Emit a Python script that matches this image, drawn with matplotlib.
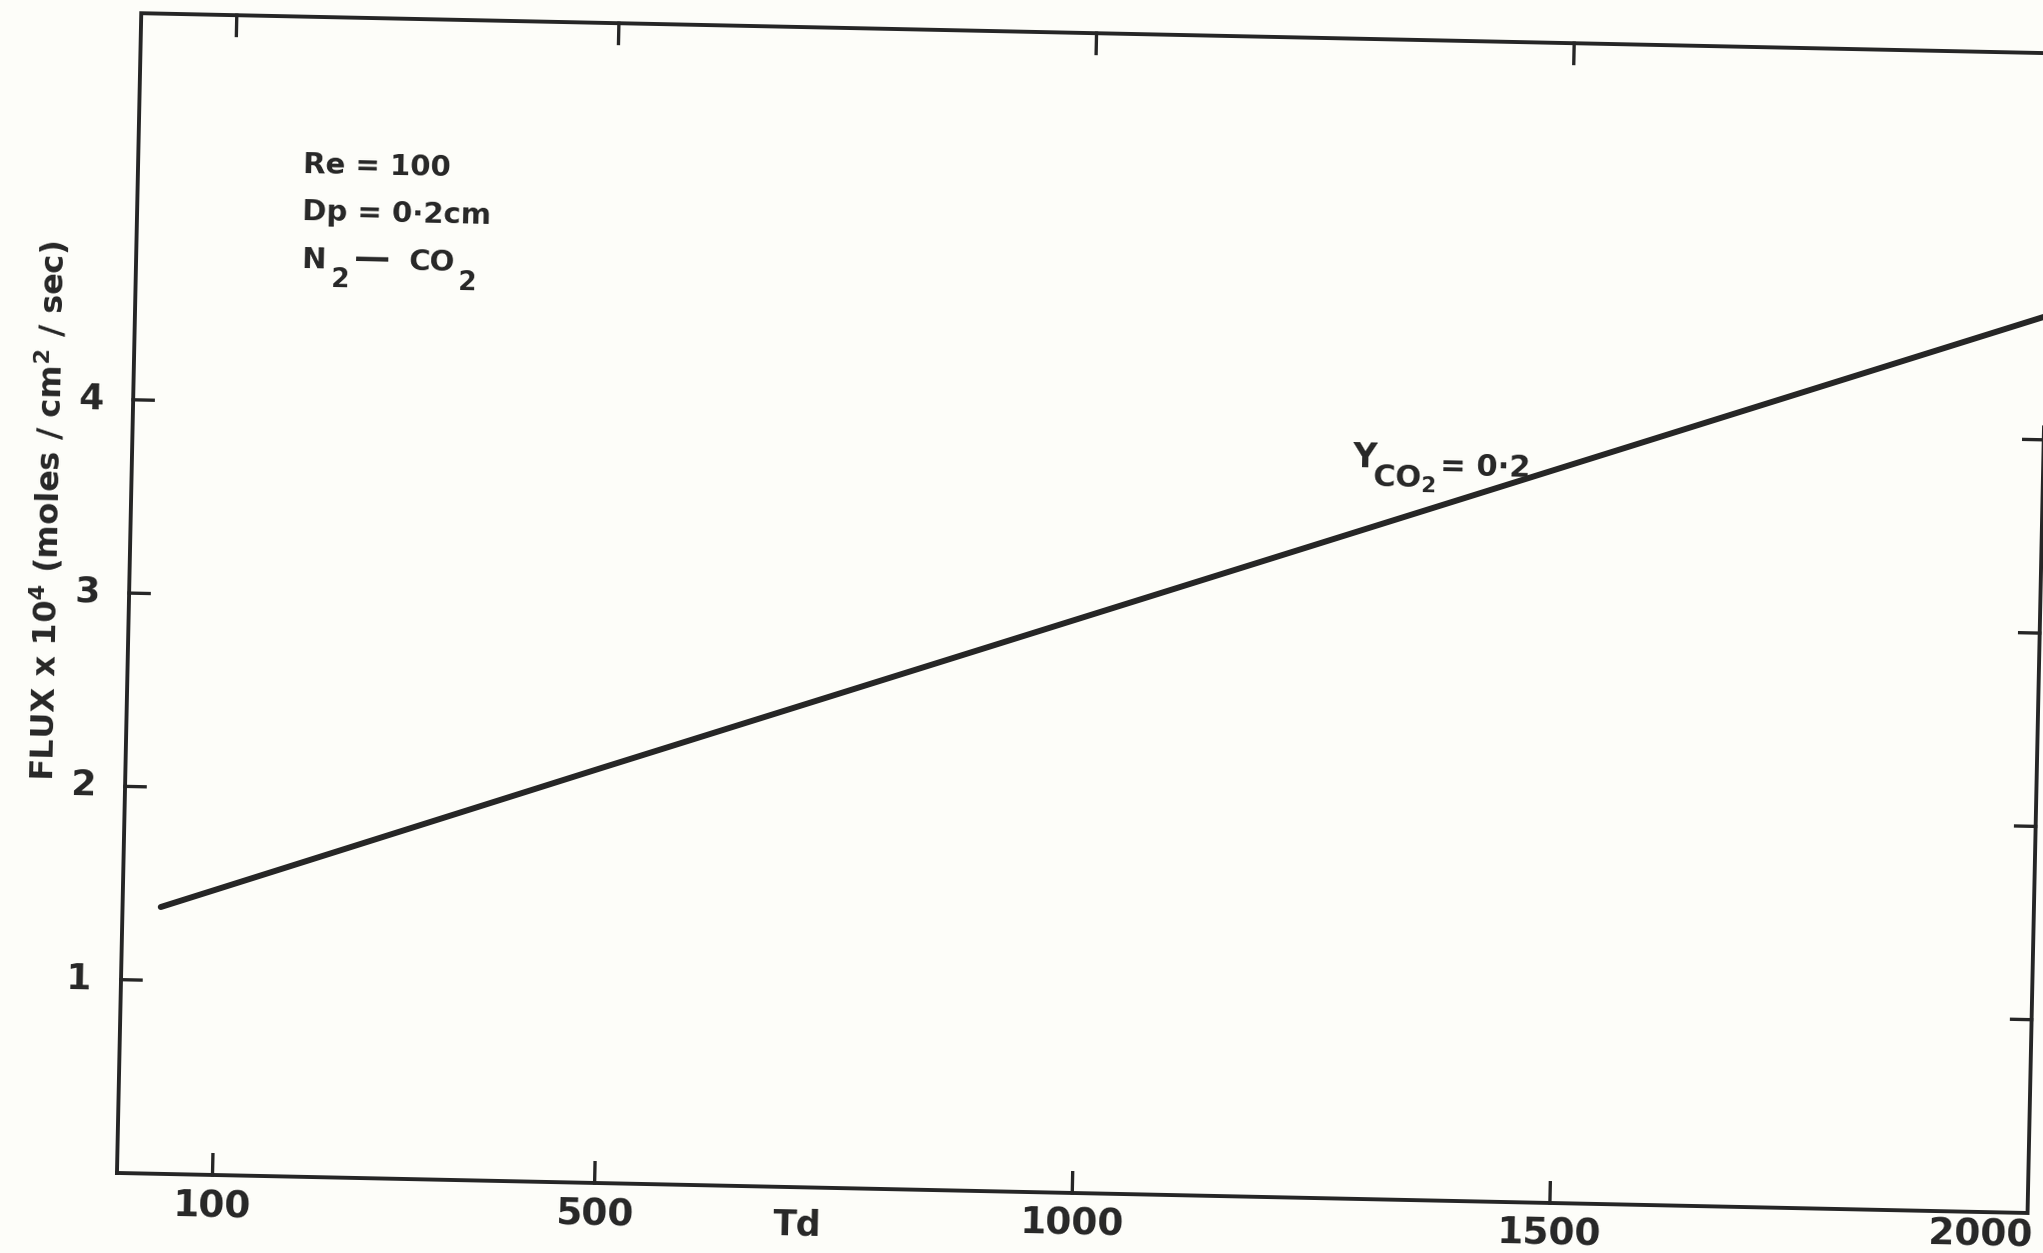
import matplotlib.pyplot as plt
from matplotlib.transforms import Affine2D

# values
td = [40, 500, 1000, 1500, 2000]
flux = [1.38, 2.15, 2.98, 3.81, 4.64]

x_ticks = [100, 500, 1000, 1500]
x_labels = ['100', '500', '1000', '1500']
y_ticks = [1, 2, 3, 4]
y_labels = ['1', '2', '3', '4']

plt.rcParams['font.family'] = ['DejaVu Sans']
plt.rcParams['font.weight'] = 'bold'
plt.rcParams['mathtext.fontset'] = 'dejavusans'

ink = '#262626'
W, H = 2043, 1253
fig = plt.figure(figsize=(W / 100, H / 100), dpi=100, facecolor='#fdfdf9')
ax = fig.add_axes([128.9 / W, 59.9 / H, 1911 / W, 1160 / H])
ax.set_xlim(0, 2000)
ax.set_ylim(0, 6)
ax.axis('off')

# the scanned sheet is turned about 1.2 degrees clockwise
tilt = -1.2
tr = ax.transData + Affine2D().rotate_deg_around(1084.4, 639.9, tilt)
kw = dict(transform=tr, clip_on=False, color=ink)
tkw = dict(transform=tr, clip_on=False, color=ink, rotation=tilt,
           rotation_mode='anchor')

# frame
ax.plot([0, 2000, 2000, 0, 0], [0, 0, 6, 6, 0], lw=2.8,
        solid_joinstyle='miter', **kw)

# inward ticks on all four sides
tx, ty = 21, 0.105
for x in x_ticks:
    ax.plot([x, x], [0, ty], lw=2.4, **kw)
    ax.plot([x, x], [6, 6 - ty], lw=2.4, **kw)
for y in y_ticks:
    ax.plot([0, tx], [y, y], lw=2.4, **kw)
    ax.plot([2000, 2000 - tx], [y, y], lw=2.4, **kw)

# tick labels
for x, s in zip(x_ticks, x_labels):
    ax.text(x, -0.165, s, ha='center', va='center', fontsize=27, **tkw)
ax.text(2006, -0.12, '2000', ha='right', va='center', fontsize=27, **tkw)
for y, s in zip(y_ticks, y_labels):
    ax.text(-44, y, s, ha='center', va='center', fontsize=26, **tkw)

# axis titles
ax.text(713, -0.194, 'Td', ha='center', va='center', fontsize=25, **tkw)
ax.text(-86.5, 3.42, r'FLUX x 10$^\mathbf{4}$ (moles / cm$^\mathbf{2}$ / sec)',
        ha='center', va='center', fontsize=23, transform=tr, clip_on=False,
        color=ink, rotation=90 + tilt, rotation_mode='anchor')

# the curve
ax.plot(td, flux, lw=4.3, solid_capstyle='round', **kw)

# curve label
ax.text(1277.5, 3.785, 'Y', ha='left', va='baseline', fontsize=24, **tkw)
ax.text(1298.8, 3.685, r'CO$_\mathbf{2}$', ha='left', va='baseline', fontsize=22, **tkw)
ax.text(1368.7, 3.753, '= 0·2', ha='left', va='baseline', fontsize=22, **tkw)

# run conditions
ax.text(173, 5.193, 'Re = 100', ha='left', va='baseline', fontsize=21, **tkw)
ax.text(173, 4.949, 'Dp = 0·2cm', ha='left', va='baseline', fontsize=21, **tkw)
ax.text(173, 4.701, 'N', ha='left', va='baseline', fontsize=21, **tkw)
ax.text(204, 4.603, '2', ha='left', va='baseline', fontsize=19, **tkw)
ax.text(228, 4.701, '—', ha='left', va='baseline', fontsize=26, **tkw)
ax.text(285, 4.701, 'CO', ha='left', va='baseline', fontsize=21, **tkw)
ax.text(337, 4.603, '2', ha='left', va='baseline', fontsize=19, **tkw)

fig.savefig('out.png', dpi=100, facecolor=fig.get_facecolor())
